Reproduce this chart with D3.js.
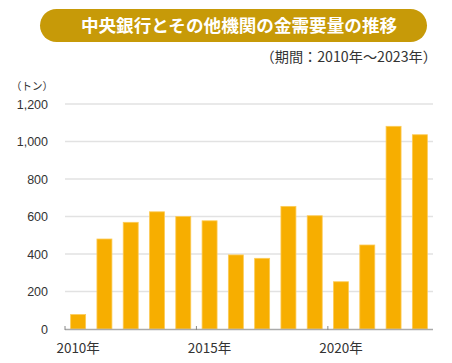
<!DOCTYPE html>
<html>
<head>
<meta charset="utf-8">
<script src="https://cdn.jsdelivr.net/npm/d3@7"></script>
<style>
  body { margin: 0; background: #fff; }
  svg { display: block; font-family: "Noto Sans CJK JP", "Noto Sans", sans-serif; }
</style>
</head>
<body>
<script>
// chart data
var years = [2010, 2011, 2012, 2013, 2014, 2015, 2016, 2017, 2018, 2019, 2020, 2021, 2022, 2023];
var demand = [77, 480, 569, 625, 600, 577, 395, 377, 654, 604, 252, 448, 1081, 1036];
var yTicks = [0, 200, 400, 600, 800, 1000, 1200];
var xLabelYears = [2010, 2015, 2020];
var title = "中央銀行とその他機関の金需要量の推移";
var subtitle = "（期間：2010年～2023年）";
var unit = "（トン）";

var svgWidth = 452;
var svgHeight = 363;

// plot area edges (no "top" as a global name, it is taken by window.top)
var plot = { left: 65, right: 433, top: 104, bottom: 329 };

var svg = d3.select("body")
  .append("svg")
  .attr("width", svgWidth)
  .attr("height", svgHeight);

// title banner
svg.append("rect")
  .attr("x", 40)
  .attr("y", 9)
  .attr("width", 387)
  .attr("height", 33)
  .attr("rx", 16.5)
  .attr("fill", "#C79A08");

svg.append("text")
  .attr("x", 239)
  .attr("y", 32)
  .attr("text-anchor", "middle")
  .attr("fill", "#fff")
  .attr("font-size", 17.6)
  .attr("font-weight", "bold")
  .text(title);

svg.append("text")
  .attr("x", 437)
  .attr("y", 62)
  .attr("text-anchor", "end")
  .attr("fill", "#333")
  .attr("font-size", 14.2)
  .text(subtitle);

var x = d3.scaleBand()
  .domain(years)
  .range([plot.left, plot.right])
  .paddingInner(0.43)
  .paddingOuter(0.215);

var y = d3.scaleLinear()
  .domain([0, 1200])
  .range([plot.bottom, plot.top]);

// gridlines
svg.append("g")
  .selectAll("line")
  .data(yTicks.filter(d => d > 0))
  .enter()
  .append("line")
  .attr("x1", plot.left)
  .attr("x2", plot.right)
  .attr("y1", d => y(d))
  .attr("y2", d => y(d))
  .attr("stroke", "#e2e2e2")
  .attr("stroke-width", 1.5);

// y labels
var leftAxis = d3.axisLeft(y).tickValues(yTicks).tickSize(0).tickPadding(17).tickFormat(d3.format(","));
svg.append("g")
  .attr("transform", `translate(${plot.left}, 0)`)
  .call(leftAxis)
  .call(g => g.select(".domain").remove())
  .call(g => g.selectAll("text")
    .attr("fill", "#333")
    .attr("font-size", 12.5)
    .attr("font-family", "Liberation Sans, Arial, sans-serif"));

svg.append("text")
  .attr("x", 32)
  .attr("y", 90)
  .attr("text-anchor", "middle")
  .attr("fill", "#333")
  .attr("font-size", 10.5)
  .text(unit);

// bars
svg.append("g")
  .selectAll("rect")
  .data(demand)
  .enter()
  .append("rect")
  .attr("x", (d, i) => x(years[i]))
  .attr("y", d => y(d))
  .attr("width", x.bandwidth())
  .attr("height", d => plot.bottom - y(d))
  .attr("fill", "#F7AE00")
  .attr("stroke", "#FCCB57")
  .attr("stroke-width", 0.8);

// x axis line
svg.append("line")
  .attr("x1", plot.left)
  .attr("x2", plot.right)
  .attr("y1", plot.bottom + 0.5)
  .attr("y2", plot.bottom + 0.5)
  .attr("stroke", "#aaa")
  .attr("stroke-width", 1.5);

// ticks sit on band boundaries, labels under bar centres
var halfGap = x.step() * x.paddingInner() / 2;
svg.append("g")
  .selectAll("line")
  .data(xLabelYears)
  .enter()
  .append("line")
  .attr("x1", d => d === years[0] ? plot.left : x(d) - halfGap)
  .attr("x2", d => d === years[0] ? plot.left : x(d) - halfGap)
  .attr("y1", plot.bottom - 3)
  .attr("y2", plot.bottom + 1)
  .attr("stroke", "#888")
  .attr("stroke-width", 1);

svg.append("g")
  .selectAll("text")
  .data(xLabelYears)
  .enter()
  .append("text")
  .attr("x", d => x(d) + x.bandwidth() / 2)
  .attr("y", 353)
  .attr("text-anchor", "middle")
  .attr("fill", "#333")
  .attr("font-size", 13.5)
  .text(d => d + "年");
</script>
</body>
</html>
